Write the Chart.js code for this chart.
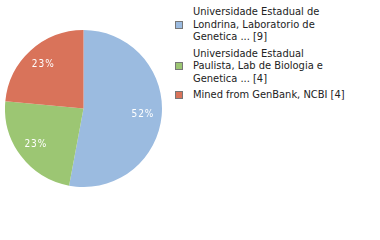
<!DOCTYPE html>
<html><head><meta charset="utf-8">
<script src="https://cdn.jsdelivr.net/npm/chart.js@4/dist/chart.umd.min.js"></script>
<style>
html,body{margin:0;padding:0;background:#fff;width:380px;height:240px;overflow:hidden;}
#wrap{position:absolute;left:5px;top:30px;width:157px;height:157px;}
#legend{position:absolute;left:175px;top:6px;font-family:"DejaVu Sans Condensed","DejaVu Sans",sans-serif;font-size:11px;line-height:12.5px;color:#222;}
.item{position:relative;margin-bottom:4px;}
.box{position:absolute;left:0;width:6px;height:6px;border:1px solid #777;}
.txt{margin-left:18px;width:153px;}
</style></head>
<body>
<div id="wrap"><canvas id="c"></canvas></div>
<div id="legend"></div>
<script>
const categories = ["Universidade Estadual de Londrina, Laboratorio de Genetica ...", "Universidade Estadual Paulista, Lab de Biologia e Genetica ...", "Mined from GenBank, NCBI"];
const counts = [9, 4, 4];
const colors = ["#9bbbe0", "#9cc673", "#d9735a"];

const total = counts.reduce((a,b)=>a+b,0);
const leg = document.getElementById('legend');
categories.forEach((c,i)=>{
  const it = document.createElement('div'); it.className='item';
  const t = document.createElement('div'); t.className='txt'; t.textContent = c + ' [' + counts[i] + ']';
  const b = document.createElement('div'); b.className='box'; b.style.background = colors[i];
  it.appendChild(b); it.appendChild(t); leg.appendChild(it);
  const lines = Math.round(t.offsetHeight/12.5);
  b.style.top = ((lines*12.5)/2 - 4) + 'px';
});

const labelPlugin = {
  id:'pctLabels',
  afterDatasetsDraw(chart){
    const ctx = chart.ctx;
    const meta = chart.getDatasetMeta(0);
    ctx.save();
    ctx.fillStyle = '#fff';
    ctx.font = '10px "DejaVu Sans Condensed","DejaVu Sans",sans-serif';
    ctx.textAlign = 'center'; ctx.textBaseline = 'middle';
    if (ctx.letterSpacing !== undefined) ctx.letterSpacing = '1px';
    meta.data.forEach((arc,i)=>{
      const p = arc.getProps(['x','y','startAngle','endAngle','outerRadius'], true);
      const a = (p.startAngle + p.endAngle)/2;
      const r = p.outerRadius*0.76;
      const txt = Math.floor(counts[i]/total*100) + '%';
      const x = p.x + Math.cos(a)*r, y = p.y + Math.sin(a)*r;
      ctx.fillText(txt, x, y);
    });
    ctx.restore();
  }
};

new Chart(document.getElementById('c'), {
  type:'pie',
  data:{labels:categories, datasets:[{data:counts, backgroundColor:colors, borderWidth:0}]},
  options:{responsive:true, maintainAspectRatio:false, animation:false,
    layout:{padding:0},
    plugins:{legend:{display:false}, tooltip:{enabled:false}}},
  plugins:[labelPlugin]
});
</script>
</body></html>
